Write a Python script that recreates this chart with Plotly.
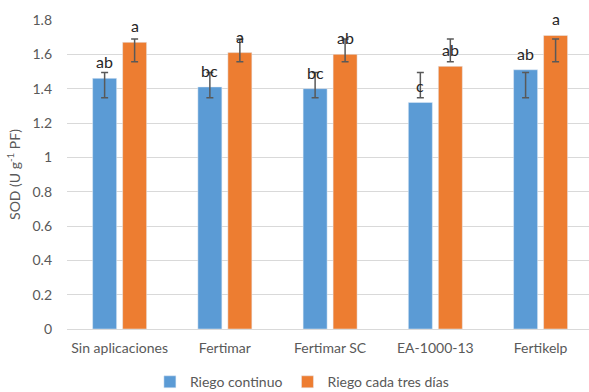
import plotly.graph_objects as go

# Treatments and SOD activity (U g-1 PF) per irrigation regime
categories = ["Sin aplicaciones", "Fertimar", "Fertimar SC", "EA-1000-13", "Fertikelp"]
continuo = [1.46, 1.41, 1.40, 1.32, 1.51]
tres_dias = [1.67, 1.61, 1.60, 1.53, 1.71]

# Error bar ends (low, high) for each series
continuo_low = [1.347, 1.347, 1.347, 1.347, 1.347]
continuo_high = [1.494, 1.494, 1.494, 1.494, 1.494]
tres_low = [1.557, 1.557, 1.557, 1.557, 1.557]
tres_high = [1.689, 1.689, 1.689, 1.689, 1.689]

# Significance letters
continuo_letters = ["ab", "bc", "bc", "c", "ab"]
tres_letters = ["a", "a", "ab", "ab", "a"]

y_ticks = [0, 0.2, 0.4, 0.6, 0.8, 1, 1.2, 1.4, 1.6, 1.8]
y_tick_text = ["0", "0.2", "0.4", "0.6", "0.8", "1", "1.2", "1.4", "1.6", "1.8"]

FONT = "Lato"
GRAY = "#595959"
BARGAP = 0.43
GROUPGAP = 0.2
X_RANGE = [-0.5, 4.46]
PLOT_W = 589 - 67


def err(vals, low, high):
    return dict(
        type="data",
        symmetric=False,
        array=[h - v for v, h in zip(vals, high)],
        arrayminus=[v - l for v, l in zip(vals, low)],
        color="#595959",
        thickness=1.5,
        width=3.5,
    )


fig = go.Figure()
fig.add_trace(go.Bar(
    name="Riego continuo", x=categories, y=continuo,
    marker_color="#5B9BD5",
    error_y=err(continuo, continuo_low, continuo_high),
))
fig.add_trace(go.Bar(
    name="Riego cada tres días", x=categories, y=tres_dias,
    marker_color="#ED7D31",
    error_y=err(tres_dias, tres_low, tres_high),
))

# Letters sit above each bar, shifted sideways to the bar's slot in the group
px_per_cat = PLOT_W / (X_RANGE[1] - X_RANGE[0])
slot_px = px_per_cat * (1 - BARGAP) / 2
for letters, vals, side in ((continuo_letters, continuo, -1), (tres_letters, tres_dias, 1)):
    for cat, v, t in zip(categories, vals, letters):
        fig.add_annotation(
            x=cat, y=v, text=t, showarrow=False,
            xanchor="center", yanchor="bottom",
            xshift=side * slot_px / 2, yshift=5,
            font=dict(family=FONT, size=16, color="#262626"),
        )

fig.update_layout(
    width=589, height=392,
    margin=dict(l=67, r=0, t=20, b=63, autoexpand=False),
    paper_bgcolor="white", plot_bgcolor="white",
    barmode="group", bargap=BARGAP, bargroupgap=GROUPGAP,
    font=dict(family=FONT, size=14, color=GRAY),
    showlegend=True,
    legend=dict(
        orientation="h", x=0.45, xanchor="center",
        yref="container", y=0.025, yanchor="middle",
        font=dict(family=FONT, size=14, color=GRAY),
        itemwidth=30, tracegroupgap=0,
    ),
)
fig.update_xaxes(
    type="category", range=X_RANGE,
    showgrid=False, showline=False, zeroline=False, ticks="",
    automargin=False, ticklabelstandoff=9,
    tickfont=dict(family=FONT, size=14, color=GRAY),
)
fig.update_yaxes(
    range=[0, 1.8], tickvals=y_ticks, ticktext=y_tick_text,
    showgrid=True, gridcolor="#D9D9D9", gridwidth=1,
    zeroline=True, zerolinecolor="#D9D9D9", zerolinewidth=1,
    showline=False, ticks="", ticklabelstandoff=14,
    automargin=False,
    tickfont=dict(family=FONT, size=14, color=GRAY),
    title=dict(text="SOD (U g<sup>-1</sup> PF)", font=dict(family=FONT, size=14, color=GRAY), standoff=8),
)

fig.write_html("out.html")
